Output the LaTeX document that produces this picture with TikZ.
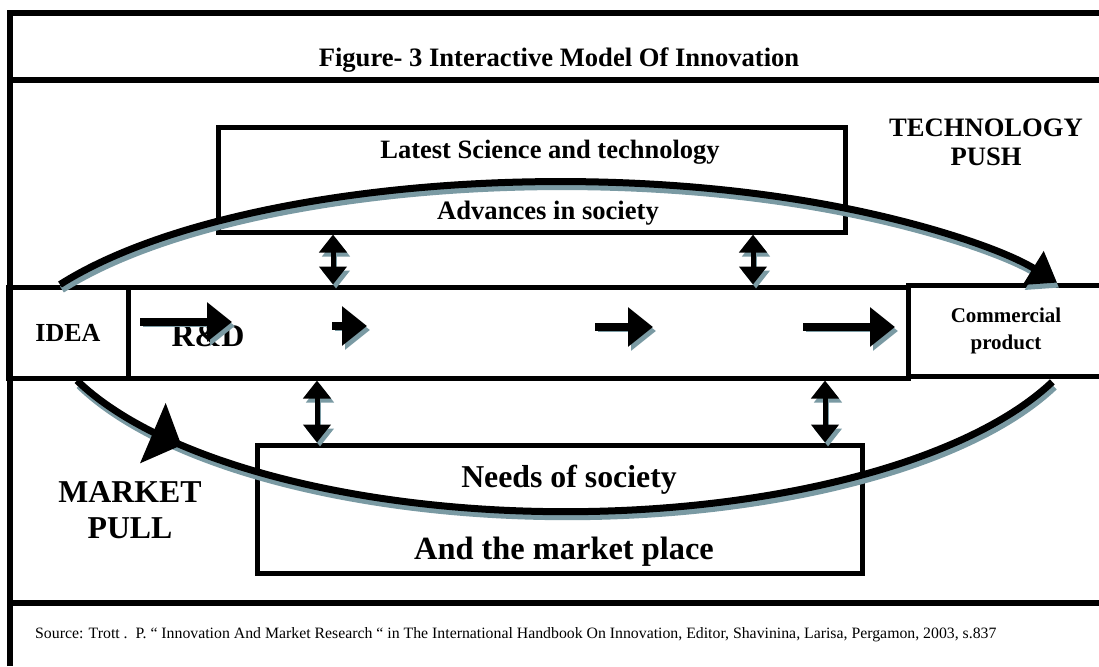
\documentclass[tikz,border=0pt]{standalone}
\usepackage{fontspec}
\setmainfont{Liberation Serif}
\usetikzlibrary{arrows.meta,decorations.markings}

\definecolor{shadowblue}{RGB}{122,154,163}

\tikzset{
  frame/.style={line width=6pt},
  box/.style={draw, line width=5pt, inner sep=0pt},
  castshadow/.style={preaction={draw=shadowblue, transform canvas={shift={(3pt,-4pt)}}}},
  blockarrow/.style={line width=8pt, -{Triangle[length=25pt,width=38pt]}, castshadow},
  twoway/.style={line width=5pt, {Triangle[length=18pt,width=27pt]}-{Triangle[length=18pt,width=27pt]}, castshadow},
  arcline/.style={line width=7pt},
  label/.style={font=\bfseries, anchor=base, inner sep=0pt}
}

\newcommand{\fs}[1]{\fontsize{#1}{#1}\selectfont}

\begin{document}
\begin{tikzpicture}[x=1pt, y=-1pt]
  \useasboundingbox (0,0) rectangle (1099,666);

  % Frame
  \draw[frame] (10,666) -- (10,13) -- (1105,13);
  \draw[frame] (7,80) -- (1105,80);
  \draw[frame] (7,603) -- (1105,603);

  % Title
  \node[label, font=\fs{26.6}\bfseries] (title) at (559,67) {Figure- 3 Interactive Model Of Innovation};

  % Boxes
  \node[box, minimum width=627pt, minimum height=105pt] (sci) at (531.5,179.5) {};
  \node[box, minimum width=120pt, minimum height=91pt, font=\fs{26}\bfseries] (idea) at (68,332.5) {IDEA};
  \node[box, minimum width=780pt, minimum height=91pt] (rnd) at (518,332.5) {};
  \node[box, minimum width=196pt, minimum height=91pt, align=center,
        font=\fontsize{21}{27}\selectfont\bfseries] (product) at (1006,331) {Commercial\\product};
  \node[box, minimum width=605pt, minimum height=128pt] (needs) at (559.5,509) {};

  % Texts
  \node[label, font=\fs{26.5}\bfseries] (scitop) at (550,158) {Latest Science and technology};
  \node[label, font=\fs{26.6}\bfseries] (scibot) at (548,219) {Advances in society};
  \node[label, font=\fs{31.8}\bfseries] (needtop) at (569,487) {Needs of society};
  \node[label, font=\fs{32.4}\bfseries] (needbot) at (564,559) {And the market place};
  \node[label, font=\fs{32}\bfseries] (rd) at (208,346) {R\&D};
  \node[align=center, font=\fontsize{26.6}{29}\selectfont\bfseries] (push) at (986,142) {TECHNOLOGY\\PUSH};
  \node[align=center, font=\fontsize{31.8}{36}\selectfont\bfseries] (pull) at (130,510) {MARKET\\PULL};
  \node[anchor=base west, inner sep=0pt, font=\fs{15.8}] (source) at (35,638)
    {Source: Trott .\ \ P. `` Innovation And Market Research `` in The International Handbook On Innovation, Editor, Shavinina, Larisa, Pergamon, 2003, s.837};

  % Arrows inside the band
  \foreach \xa/\xb/\yy in {140/232/322, 332/367/326, 595/653/327, 803/895/327}
    \draw[blockarrow] (\xa,\yy) -- (\xb,\yy);

  % Two-way arrows
  \draw[twoway] (sci.south -| 333,0) -- (rnd.north -| 333,0);
  \draw[twoway] (sci.south -| 753,0) -- (rnd.north -| 753,0);
  \draw[twoway] (rnd.south -| 317,0) -- (needs.north -| 317,0);
  \draw[twoway] (rnd.south -| 825,0) -- (needs.north -| 825,0);

  % Technology push and market pull (shadow first, then black)
  \foreach \col/\dx/\dy in {shadowblue/2/5, black/0/0} {
    \draw[arcline, \col, -{Triangle[length=28pt,width=38pt]}] ([shift={(\dx,\dy)}]idea.north -| 60,0)
      arc[start angle=-151.3, end angle=-29.3, x radius=570, y radius=198];
    \draw[arcline, \col] ([shift={(\dx,\dy)}]idea.south -| 77,0)
      arc[start angle=157.4, end angle=23, x radius=529, y radius=213];
  }
  \draw[arcline, draw=none, decoration={markings, mark=at position 0.12 with {\arrow{Triangle[length=31pt,width=64pt]}}},
        postaction={decorate}] (idea.south -| 77,0)
    arc[start angle=157.4, end angle=23, x radius=529, y radius=213];
\end{tikzpicture}
\end{document}
